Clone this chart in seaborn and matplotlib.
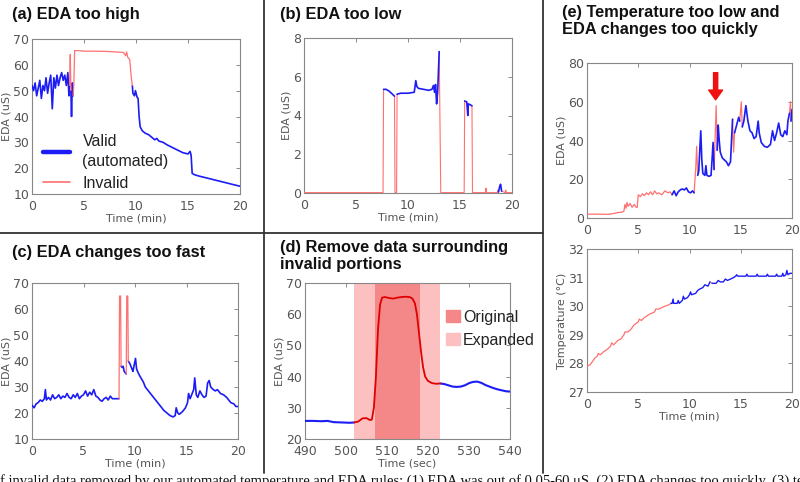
import matplotlib
matplotlib.use("Agg")
import matplotlib.pyplot as plt
import seaborn as sns
import pandas as pd
from matplotlib.lines import Line2D
from matplotlib.patches import Patch

# ---- dados ----
# (a) EDA too high
a_t = [0.0, 0.15, 0.3, 0.45, 0.6, 0.75, 0.9, 1.05, 1.2, 1.35, 1.5, 1.65, 1.8, 1.95, 2.1, 2.25,
       2.4, 2.55, 2.7, 2.85, 3.0, 3.15, 3.3, 3.45, 3.55, 3.62, 3.68, 3.74, 3.8, 3.88, 3.95, 4.02,
       4.1, 4.5, 5, 6, 7, 8, 8.8, 9.0, 9.1, 9.2, 9.4, 9.55, 9.65, 9.7, 9.85, 9.95, 10.1, 10.2,
       10.3, 10.4, 10.6, 10.9, 11.2, 11.5, 11.8, 12.0, 12.2, 12.6, 13, 13.5, 14, 14.5, 15, 15.2,
       15.3, 15.4, 15.6, 16, 17, 18, 19, 20]
a_eda = [52, 50, 53, 48, 51, 54, 47, 52, 50, 55, 49, 53, 56, 43, 55, 51,
         56, 52, 55, 57, 54, 56, 52, 57, 48, 52, 64, 50, 40, 53, 48, 52,
         65.5, 65.5, 65.3, 65.3, 65.2, 65.0, 64.8, 63.5, 65, 63, 62, 55, 52, 49, 48, 50, 47.5, 47,
         40, 36, 34.5, 33.5, 33, 32, 31, 31.5, 30.5, 30, 29, 28, 27, 26, 25.5, 26.5,
         25, 18, 17.5, 17, 16, 15, 14, 13]
a_invalid = [(3.62, 3.74), (3.95, 9.65)]

# (b) EDA too low
b_t = [0, 7.6, 7.65, 7.9, 8.2, 8.5, 8.7, 8.75, 8.9, 8.95, 9.3, 10.0, 10.6, 10.75, 10.85, 11.0,
       11.5, 12.0, 12.3, 12.45, 12.55, 12.65, 12.75, 12.85, 13.0, 13.15, 15.4, 15.45, 15.65,
       15.75, 15.8, 16.0, 16.15, 16.2, 17.45, 17.5, 17.55, 18.6, 18.65, 18.7, 18.8, 18.9, 19.0,
       19.35, 19.4, 19.45, 20]
b_eda = [0.02, 0.02, 5.35, 5.35, 5.25, 5.1, 5.0, 0.02, 0.02, 5.1, 5.15, 5.15, 5.2, 5.8, 5.5, 5.4,
         5.35, 5.3, 5.35, 5.55, 5.2, 5.6, 4.6, 5.2, 7.3, 0.02, 0.02, 4.75, 4.7,
         4.0, 4.6, 4.55, 4.5, 0.02, 0.02, 0.25, 0.02, 0.02, 0.15, 0.05, 0.3, 0.45, 0.1,
         0.02, 0.15, 0.02, 0.02]
b_invalid = [(0, 7.65), (8.7, 8.95), (13.0, 15.45), (16.15, 18.7), (19.0, 20.1)]

# (c) EDA changes too fast
c_t = [0, 0.2, 0.4, 0.6, 0.8, 1.0, 1.2, 1.3, 1.4, 1.6, 1.8, 2.0, 2.2, 2.4, 2.6, 2.8, 3.0, 3.2,
       3.4, 3.6, 3.8, 4.0, 4.2, 4.4, 4.6, 4.8, 5.0, 5.2, 5.4, 5.6, 5.8, 6.0, 6.2, 6.4, 6.6, 6.8,
       7.0, 7.2, 7.4, 7.6, 7.8, 8.0, 8.45, 8.5, 8.6, 8.65, 8.75, 8.85, 8.95, 9.05, 9.15, 9.2,
       9.3, 9.35, 9.5, 9.7, 9.8, 9.9, 10.05, 10.15, 10.3, 10.5, 10.8, 11.0, 11.3, 11.6, 11.9,
       12.2, 12.5, 12.8, 13.1, 13.4, 13.7, 13.9, 14.0, 14.15, 14.3, 14.6, 14.9, 15.1, 15.2,
       15.35, 15.5, 15.7, 15.8, 15.95, 16.1, 16.3, 16.5, 16.7, 16.9, 17.05, 17.2, 17.35, 17.6,
       17.8, 18.0, 18.3, 18.6, 18.9, 19.1, 19.3, 19.6, 19.8, 20]
c_eda = [23, 22, 23.5, 24, 25, 24.5, 25.5, 29, 25, 26, 25, 27, 25.5, 26, 27, 25.5, 26.5, 26,
         27.5, 26, 25.5, 27, 26, 27.5, 25.5, 26.5, 27, 28.5, 26.5, 28, 27, 29, 26.5, 26, 25, 24.5,
         25.5, 26, 25, 26.5, 25.5, 25.5, 25.5, 65, 65, 38, 37.5, 38, 36, 35.5, 35, 65,
         65, 40, 39, 37, 36, 38, 41, 37, 35.5, 34, 32, 30, 28.5, 27, 25.5,
         24, 22.5, 21, 20, 19, 18.5, 19, 22, 20, 19.5, 20.5, 22, 24, 27.5,
         25.5, 27, 29, 33.5, 27, 26, 28.5, 27, 26, 26.5, 31.5, 32.5, 30, 29,
         28.5, 29, 27.5, 27, 26, 25, 24, 23.5, 22.5, 22.5]
c_invalid = [(8.45, 8.65), (9.15, 9.35)]

# (d) remocao ao redor das partes invalidas (segundos)
d_t = [490, 492, 494, 495.5, 497, 499, 501, 502, 503, 504, 505, 505.8, 506.3, 506.8, 507.3,
       507.8, 508.3, 508.8, 509.5, 510.5, 511.5, 512.5, 513.5, 514.5, 515.5, 516.2, 516.8,
       517.3, 517.8, 518.3, 518.8, 519.3, 520, 521, 522, 523, 524, 525, 526, 527, 528, 529,
       530, 531, 532, 533, 534, 535, 536, 537, 538, 539, 540]
d_eda = [25.8, 25.8, 25.7, 25.8, 25.4, 25.3, 25.2, 25.3, 25.6, 26.6, 26.7, 26.1, 26.2, 30, 40,
         55, 63, 65.3, 65.5, 65.2, 65.0, 65.3, 65.5, 65.6, 65.5, 65.0, 63.5,
         60, 54, 48, 43, 40, 38.6, 37.9, 37.7, 37.8, 37.6, 37.2, 36.8, 36.7, 36.8, 37.2,
         37.9, 38.3, 38.4, 38.0, 37.3, 36.8, 36.3, 35.9, 35.6, 35.3, 35.2]
d_invalid = [(502, 523)]
d_original = (507, 518)
d_expanded = (502, 523)

# (e) temperatura baixa e EDA muda rapido
e_t = [0, 1, 2, 2.5, 3.0, 3.4, 3.6, 3.7, 3.8, 3.9, 4.0, 4.2, 4.4, 4.6, 4.8, 4.9, 5.0, 5.2, 5.4,
       5.6, 5.8, 6.0, 6.2, 6.4, 6.6, 6.8, 7.0, 7.3, 7.6, 7.9, 8.1, 8.3, 8.5, 8.7, 8.9, 9.1, 9.3,
       9.5, 9.7, 9.9, 10.1, 10.3, 10.45, 10.6, 10.7, 10.8, 10.9, 11.0, 11.1, 11.2, 11.3, 11.5,
       11.6, 11.7, 11.9, 12.1, 12.2, 12.3, 12.4, 12.6, 12.7, 12.8, 12.9, 13.0, 13.2, 13.4, 13.6,
       13.8, 14.0, 14.1, 14.2, 14.3, 14.4, 14.6, 14.8, 14.9, 15.05, 15.15, 15.3, 15.5, 15.7,
       15.9, 16.1, 16.3, 16.5, 16.7, 16.8, 17.0, 17.3, 17.6, 17.9, 18.1, 18.3, 18.5, 18.7, 18.9,
       19.1, 19.3, 19.5, 19.6, 19.75, 19.85, 19.9, 20]
e_eda = [2, 2, 1.9, 2.2, 2.8, 3, 3.5, 7, 5, 8, 6, 7.5, 5.5, 7, 5.5, 5.5, 12, 11, 12.5,
         11.5, 13, 12, 13.5, 12, 14, 12.5, 13, 12, 14, 13, 13.5, 12, 14, 11.5, 13.5, 14.5, 15,
         14.5, 15.5, 13.5, 13, 14, 13, 25, 37, 22, 24, 35, 45, 30, 23, 22,
         27, 22, 21.5, 22, 30, 39, 25, 58, 35, 48, 40, 34, 31, 30, 29,
         27, 29, 40, 51, 34, 44, 48, 52, 50, 60, 47, 50, 58, 50,
         45, 44, 41, 42, 50, 44, 39, 37, 36.5, 38, 45, 40, 44, 49, 43,
         42, 45, 43, 50, 54, 60, 50, 56]
e_invalid = [(0, 8.2), (10.45, 10.8), (12.4, 12.7), (14.2, 14.4), (14.9, 15.15), (19.75, 19.9)]

f_t = [0, 0.3, 0.5, 0.8, 1.0, 1.1, 1.3, 1.6, 2.0, 2.3, 2.4, 2.6, 3.0, 3.3, 3.6, 3.7, 4.0, 4.3,
       4.6, 5.0, 5.1, 5.3, 5.6, 6.0, 6.3, 6.6, 6.7, 7.0, 7.3, 7.6, 8.0, 8.2, 8.3, 8.4, 8.45,
       8.8, 8.9, 9.0, 9.3, 9.4, 9.5, 9.8, 10.0, 10.1, 10.2, 10.6, 10.8, 11.0, 11.3, 11.5, 11.8,
       12.0, 12.2, 12.6, 12.8, 13.0, 13.3, 13.5, 13.7, 14.0, 14.3, 14.5, 14.6, 14.7, 15.5, 15.6,
       15.7, 16.5, 16.6, 16.7, 17.5, 17.6, 17.7, 18.4, 18.5, 18.6, 19.0, 19.1, 19.2, 19.4,
       19.5, 19.6, 19.8, 20]
f_temp = [27.9, 27.95, 28.05, 28.2, 28.25, 28.35, 28.3, 28.4, 28.5, 28.6, 28.72, 28.65, 28.8,
          28.85, 29.0, 29.1, 29.1, 29.2, 29.35, 29.45, 29.55, 29.5, 29.6, 29.7, 29.75, 29.8,
          29.9, 29.9, 29.95, 30.0, 30.05, 30.1, 30.1, 30.25, 30.1, 30.1, 30.2, 30.1, 30.2,
          30.35, 30.25, 30.3, 30.4, 30.5, 30.4, 30.45, 30.55, 30.6, 30.65, 30.75, 30.7, 30.85,
          30.8, 30.8, 30.9, 30.85, 30.85, 30.95, 30.9, 30.95, 31.0, 31.05, 31.1, 31.05, 31.05,
          31.12, 31.05, 31.05, 31.12, 31.05, 31.05, 31.12, 31.05, 31.05, 31.12, 31.05, 31.05,
          31.15, 31.05, 31.1, 31.25, 31.1, 31.15, 31.15]
f_invalid = [(0, 8.2), (12.0, 12.2)]

caption = ("f invalid data removed by our automated temperature and EDA rules: (1) EDA was "
           "out of 0.05-60 \u03bcS, (2) EDA changes too quickly, (3) temperature")

BLUE = "#1c1cf5"
RED = "#ff7070"
GRAY = "#555555"
SANS = ["Liberation Sans", "DejaVu Sans"]


def segmentos(t, v, spans):
    """Quebra a serie em trechos validos / invalidos (cada trecho inclui o ponto seguinte)."""
    def bad(x):
        return any(s <= x < e for s, e in spans)
    rows = []
    seg = 0
    for i in range(len(t)):
        st = "invalid" if bad(t[i]) else "valid"
        rows.append((t[i], v[i], seg, st))
        if i + 1 < len(t):
            nxt = "invalid" if bad(t[i + 1]) else "valid"
            if nxt != st:
                rows.append((t[i + 1], v[i + 1], seg, st))
                seg += 1
    return pd.DataFrame(rows, columns=["t", "v", "seg", "status"])


def desenha(ax, t, v, spans, red=RED, lw_valid=1.2, lw_invalid=0.9):
    df = segmentos(t, v, spans)
    sns.lineplot(data=df, x="t", y="v", units="seg", hue="status", size="status",
                 sizes={"valid": lw_valid, "invalid": lw_invalid},
                 palette={"valid": BLUE, "invalid": red},
                 estimator=None, sort=False, legend=False, ax=ax, zorder=3)


def estilo(ax, xlim, ylim, xticks, yticks, xlabel="Time (min)", ylabel="EDA (uS)"):
    ax.set_xlim(*xlim)
    ax.set_ylim(*ylim)
    ax.set_xticks(xticks)
    ax.set_yticks(yticks)
    ax.tick_params(direction="in", length=3, top=True, right=True, labelsize=9,
                   labelcolor=GRAY, color="#777777", width=0.6)
    ax.tick_params(axis="x", pad=4.5)
    ax.tick_params(axis="y", pad=2)
    for sp in ax.spines.values():
        sp.set_color("#888888")
        sp.set_linewidth(0.8)
    ax.set_xlabel(xlabel if xlabel else "", fontsize=8, color=GRAY, labelpad=0)
    ax.set_ylabel(ylabel, fontsize=8, color=GRAY, labelpad=1)
    ax.grid(False)


sns.set_theme(style="white")
plt.rcParams["font.family"] = ["DejaVu Sans"]

fig = plt.figure(figsize=(8, 4.82), dpi=100)
W, H = 800, 482


def eixo(x0, y0, x1, y1):
    return fig.add_axes([x0 / W, 1 - y1 / H, (x1 - x0) / W, (y1 - y0) / H])


ax_a = eixo(32, 39, 240, 194)
ax_b = eixo(304, 38, 512, 193)
ax_c = eixo(32, 283, 238, 439)
ax_d = eixo(305, 283, 510, 439)
ax_e = eixo(587, 63, 792, 218)
ax_f = eixo(587, 249, 792, 392)

tmin = [0, 5, 10, 15, 20]

# (a)
desenha(ax_a, a_t, a_eda, a_invalid)
estilo(ax_a, (0, 20), (10, 70), tmin, [10, 20, 30, 40, 50, 60, 70])
leg = [Line2D([0], [0], color=BLUE, lw=3.2), Line2D([0], [0], color=RED, lw=1.2)]
lg = ax_a.legend(leg, ["Valid\n(automated)", "Invalid"], loc="lower left",
                 bbox_to_anchor=(0.02, -0.02), borderaxespad=0, frameon=False,
                 prop={"family": SANS, "size": 11.5}, handlelength=1.7, labelspacing=0.4,
                 handletextpad=0.8, labelcolor="#222222")
for txt in lg.get_texts():
    txt.set_linespacing(1.45)

# (b)
desenha(ax_b, b_t, b_eda, b_invalid, lw_invalid=0.8)
estilo(ax_b, (0, 20), (0, 8), tmin, [0, 2, 4, 6, 8])

# (c)
desenha(ax_c, c_t, c_eda, c_invalid)
estilo(ax_c, (0, 20), (10, 70), tmin, [10, 20, 30, 40, 50, 60, 70])

# (d)
ax_d.axvspan(*d_expanded, color="#fcc0c0", lw=0, zorder=1)
ax_d.axvspan(*d_original, color="#f48888", lw=0, zorder=2)
desenha(ax_d, d_t, d_eda, d_invalid, red="#e00000", lw_valid=1.5, lw_invalid=1.3)
estilo(ax_d, (490, 540), (20, 70), [490, 500, 510, 520, 530, 540],
       [20, 30, 40, 50, 60, 70], xlabel="Time (sec)")
ax_d.legend([Patch(color="#f48888"), Patch(color="#fcc0c0")], ["Original", "Expanded"],
            loc="upper left", bbox_to_anchor=(0.69, 0.83), frameon=False,
            prop={"family": SANS, "size": 11.5},
            handlelength=0.85, handleheight=0.85, handletextpad=0.2, labelspacing=0.5,
            borderaxespad=0, borderpad=0, labelcolor="#222222")

# (e) EDA
desenha(ax_e, e_t, e_eda, e_invalid)
estilo(ax_e, (0, 20), (0, 80), tmin, [0, 20, 40, 60, 80], xlabel=None)
ax_e.annotate("", xy=(12.55, 61), xytext=(12.55, 75),
              arrowprops=dict(facecolor="#ee1111", edgecolor="#ee1111", width=3,
                              headwidth=10, headlength=7))

# (e) temperatura
desenha(ax_f, f_t, f_temp, f_invalid, lw_valid=1.0, lw_invalid=0.9)
estilo(ax_f, (0, 20), (27, 32), tmin, [27, 28, 29, 30, 31, 32], ylabel="Temperature (\u00b0C)")

# titulos dos paineis
tit = dict(fontsize=11.8, fontweight="bold", family=SANS, color="#111111",
           va="top", ha="left")
fig.text(12 / W, 1 - 7 / H, "(a) EDA too high", **tit)
fig.text(280 / W, 1 - 7 / H, "(b) EDA too low", **tit)
fig.text(562 / W, 1 - 5 / H, "(e) Temperature too low and\nEDA changes too quickly",
         linespacing=1.2, **tit)
fig.text(12 / W, 1 - 245 / H, "(c) EDA changes too fast", **tit)
fig.text(280 / W, 1 - 240 / H, "(d) Remove data surrounding\ninvalid portions",
         linespacing=1.15, **tit)

# linhas divisorias
kw = dict(color="#333333", lw=1.3, transform=fig.transFigure)
fig.add_artist(Line2D([0, 543 / W], [1 - 233 / H, 1 - 233 / H], **kw))
fig.add_artist(Line2D([264 / W, 264 / W], [1, 1 - 473 / H], **kw))
fig.add_artist(Line2D([543 / W, 543 / W], [1, 1 - 473 / H], **kw))

# legenda (texto do artigo) cortada no rodape, como na figura original
fig.text(0.0, 1 - 474 / H, caption, fontsize=10.5, family=["Liberation Serif"],
         color="#111111", va="top", ha="left")

fig.savefig("out.png", dpi=100)
